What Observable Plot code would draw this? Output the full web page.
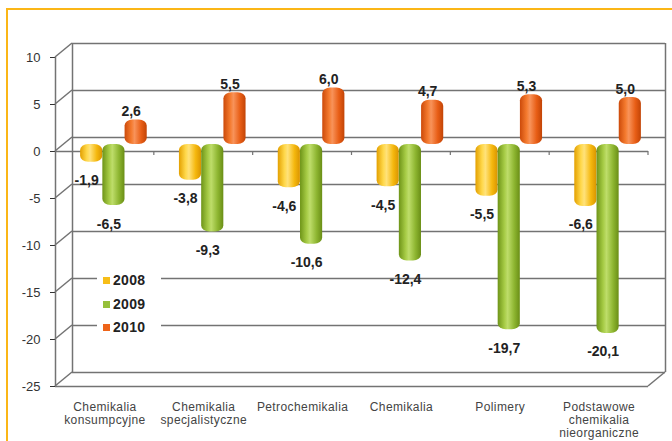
<!DOCTYPE html>
<html>
<head>
<meta charset="utf-8">
<script src="https://cdn.jsdelivr.net/npm/d3@7"></script>
<script src="https://cdn.jsdelivr.net/npm/@observablehq/plot@0.6"></script>
<style>
  html, body { margin: 0; padding: 0; background: #fff; }
  #wrap { position: relative; width: 672px; height: 441px; overflow: hidden; background: #fff; font-family: "Liberation Sans", Arial, sans-serif; }
  #border { position: absolute; left: 6px; top: 8px; width: 700px; height: 480px; border: 2px solid #FBB617; box-sizing: border-box; pointer-events: none; }
  #chart { position: absolute; left: 0; top: 0; }
  #chart svg .catlab text { letter-spacing: 0.4px; }
  #legend { position: absolute; left: 97px; top: 269px; width: 58px; background: #fff; padding: 0 0 0 6px; }
  #legend div { height: 23.5px; line-height: 23.5px; font-weight: bold; font-size: 14px; color: #222; white-space: nowrap; letter-spacing: 0.3px; }
  #legend span { display: inline-block; width: 7px; height: 7px; margin-right: 3px; vertical-align: 1px; }
</style>
</head>
<body>
<div id="wrap">
  <div id="chart"></div>
  <div id="legend"></div>
  <div id="border"></div>
</div>
<script>
// ---- data ----
const categories = ["Chemikalia konsumpcyjne", "Chemikalia specjalistyczne", "Petrochemikalia", "Chemikalia", "Polimery", "Podstawowe chemikalia nieorganiczne"];
const categoryLabels = ["Chemikalia\nkonsumpcyjne", "Chemikalia\nspecjalistyczne", "Petrochemikalia", "Chemikalia", "Polimery", "Podstawowe\nchemikalia\nnieorganiczne"];
const series = ["2008", "2009", "2010"];
const values2008 = [-1.9, -3.8, -4.6, -4.5, -5.5, -6.6];
const values2009 = [-6.5, -9.3, -10.6, -12.4, -19.7, -20.1];
const values2010 = [2.6, 5.5, 6.0, 4.7, 5.3, 5.0];
const yTicks = [10, 5, 0, -5, -10, -15, -20, -25];

// ---- styling ----
const colors = {"2008": "#F7BE18", "2009": "#96C03A", "2010": "#EE6419"};
const gradIds = {"2008": "gY", "2009": "gG", "2010": "gO"};
const gridColor = "#737373";
const DX = 17, DY = 14;         // depth offsets of back wall
const BAR_DX = 9, BAR_DY = -7;  // bars stand slightly inside the box
const slot = 0.225, half = 0.112;

const seriesValues = [values2008, values2009, values2010];
const rows = [];
series.forEach((s, si) => seriesValues[si].forEach((v, i) => rows.push({series: s, si, i, category: categories[i], value: v})));
const bySeries = s => rows.filter(d => d.series === s);
const center = d => d.i + 0.5 + (d.si - 1) * slot;
const fmt = v => v.toFixed(1).replace(".", ",");

function perspective(index, scales) {
  const {x, y} = scales;
  const g = d3.create("svg:g").attr("stroke", gridColor).attr("stroke-width", 1.5).attr("fill", "none");
  for (const t of yTicks) {
    g.append("line").attr("x1", x(0)).attr("y1", y(t)).attr("x2", x(0) + DX).attr("y2", y(t) - DY);
  }
  g.append("line").attr("x1", x(categories.length)).attr("y1", y(-25)).attr("x2", x(categories.length) + DX).attr("y2", y(-25) - DY);
  for (let i = 1; i <= categories.length; i++) {
    g.append("line").attr("x1", x(i)).attr("x2", x(i)).attr("y1", y(0)).attr("y2", y(0) + 4).attr("stroke-width", 1.2);
  }
  return g.node();
}

function bars(s) {
  return Plot.rect(bySeries(s), {
    x1: d => center(d) - half, x2: d => center(d) + half,
    y1: 0, y2: "value",
    fill: `url(#${gradIds[s]})`, rx: 8, ry: 6,
    dx: BAR_DX, dy: BAR_DY
  });
}

const chart = Plot.plot({
  width: 672, height: 441,
  marginTop: 57, marginBottom: 55, marginLeft: 55, marginRight: 24,
  x: {domain: [0, categories.length], axis: null},
  y: {domain: [-25, 10], ticks: yTicks, tickSize: 5, tickPadding: 10, label: null, tickFormat: d => String(d)},
  style: {fontFamily: "'Liberation Sans', Arial, sans-serif", fontSize: "13px", color: "#333", background: "transparent", overflow: "visible"},
  marks: [
    // back wall
    Plot.ruleY(yTicks, {stroke: gridColor, strokeWidth: 1.5, dx: DX, dy: -DY}),
    Plot.ruleX([0, categories.length], {stroke: gridColor, strokeWidth: 1.5, dx: DX, dy: -DY}),
    // front edges
    Plot.ruleX([0], {stroke: gridColor, strokeWidth: 1.5}),
    Plot.ruleY([-25, 0], {stroke: gridColor, strokeWidth: 1.5}),
    perspective,
    // bars
    bars("2010"),
    bars("2008"),
    bars("2009"),
    // value labels
    Plot.text(bySeries("2010"), {x: center, y: "value", text: d => fmt(d.value), lineAnchor: "bottom", dx: BAR_DX - 5, dy: BAR_DY - 4, fontWeight: "bold", fontSize: 14, fill: "#222"}),
    Plot.text(rows.filter(d => d.series !== "2010"), {x: center, y: "value", text: d => fmt(d.value), lineAnchor: "top", dx: BAR_DX - 5, dy: BAR_DY + 13, fontWeight: "bold", fontSize: 14, fill: "#222"}),
    // category labels
    Plot.text(categoryLabels, {x: (d, i) => i + 0.5, frameAnchor: "bottom", lineAnchor: "top", dy: 15, fontSize: 12, lineHeight: 1.1, fill: "#444", className: "catlab"})
  ]
});

// gradients for cylinder look
const defs = d3.select(chart).insert("defs", ":first-child");
const grads = {
  gY: ["#E3A000", "#FFD84A", "#FFE27A", "#F5B80E", "#D99400"],
  gG: ["#6E9418", "#A6CB45", "#BEDD6A", "#8DB530", "#6A8E16"],
  gO: ["#CC4A0A", "#F47A2E", "#F8935A", "#E85E16", "#C24406"]
};
for (const [id, stops] of Object.entries(grads)) {
  const lg = defs.append("linearGradient").attr("id", id).attr("x1", 0).attr("x2", 1).attr("y1", 0).attr("y2", 0);
  const offs = [0, 0.3, 0.45, 0.75, 1];
  stops.forEach((c, k) => lg.append("stop").attr("offset", offs[k]).attr("stop-color", c));
}
document.getElementById("chart").appendChild(chart);

// legend
const legend = document.getElementById("legend");
for (const s of series) {
  const row = document.createElement("div");
  const sw = document.createElement("span");
  sw.style.background = colors[s];
  row.appendChild(sw);
  row.appendChild(document.createTextNode(s));
  legend.appendChild(row);
}
</script>
</body>
</html>
